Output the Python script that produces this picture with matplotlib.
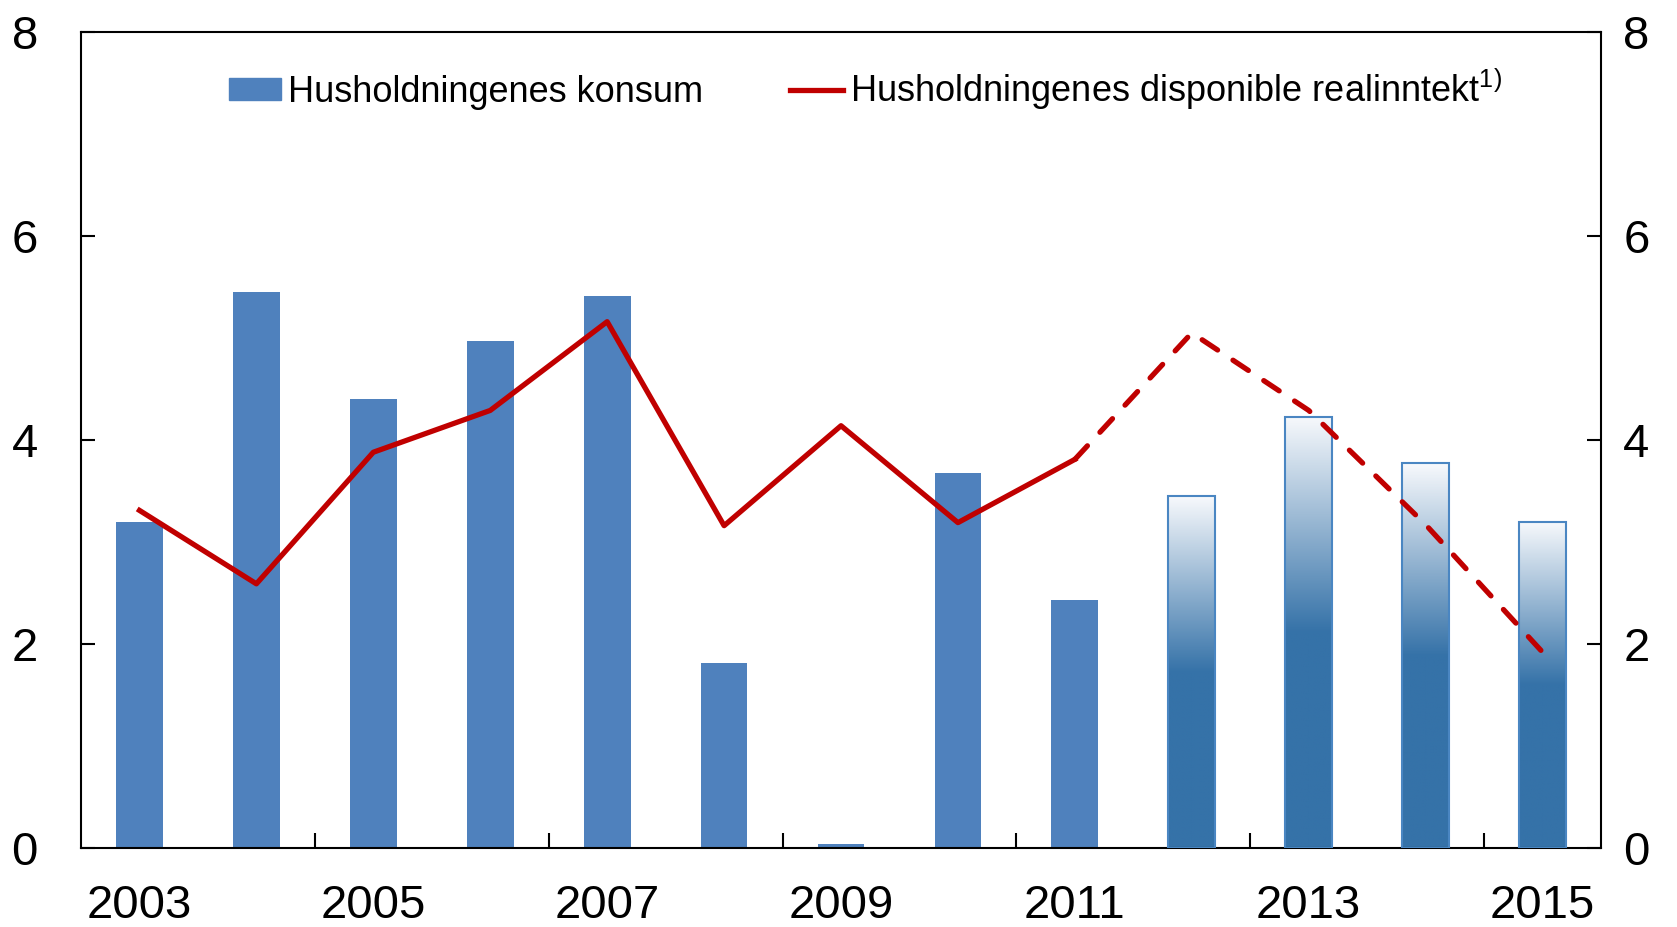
import matplotlib
matplotlib.use('Agg')
import matplotlib.pyplot as plt
import numpy as np
from matplotlib.colors import LinearSegmentedColormap
from matplotlib.transforms import ScaledTranslation
from matplotlib.patches import Patch
from matplotlib.lines import Line2D

plt.rcParams['font.family'] = ['Liberation Sans', 'DejaVu Sans']
plt.rcParams['mathtext.fontset'] = 'custom'
plt.rcParams['mathtext.rm'] = 'Liberation Sans'

years = list(range(2003, 2016))
konsum = [3.20, 5.45, 4.40, 4.97, 5.41, 1.81, 0.04, 3.68, 2.43, 3.45, 4.23, 3.77, 3.20]
inntekt_hist = [3.31, 2.59, 3.88, 4.29, 5.16, 3.16, 4.14, 3.19, 3.81]
inntekt_prog = [3.81, 5.05, 4.29, 3.17, 1.92]
first_forecast = 2012

bar_col = '#4F81BD'
fc_col = '#3572A8'
line_col = '#C00000'

fig = plt.figure(figsize=(16.77, 9.27), dpi=100)
ax = fig.add_axes([0.0483, 0.0852, 0.9064, 0.8803])

hist_years = [y for y in years if y < first_forecast]
fc_years = [y for y in years if y >= first_forecast]
ax.bar(hist_years, konsum[:len(hist_years)], width=0.4, color=bar_col, zorder=2)
fc_bars = ax.bar(fc_years, konsum[len(hist_years):], width=0.4, color='none',
                 edgecolor='#4A86C2', linewidth=1.5, zorder=3)

# gradient fill for forecast bars: light on top, solid in lower half
cmap = LinearSegmentedColormap.from_list('g', [(0, fc_col), (0.5, fc_col), (1, '#F7F9FC')])
grad = np.linspace(0, 1, 256).reshape(-1, 1)
for b in fc_bars:
    x0, w, h = b.get_x(), b.get_width(), b.get_height()
    im = ax.imshow(grad, cmap=cmap, extent=(x0, x0 + w, 0, h), origin='lower',
                   aspect='auto', zorder=2)
    im.set_clip_path(b)

ax.plot(years[:len(inntekt_hist)], inntekt_hist, color=line_col, lw=3.8, zorder=4)
ax.plot(years[len(inntekt_hist) - 1:], inntekt_prog, color=line_col, lw=3.8, zorder=4,
        dashes=(3.5, 3.5), dash_capstyle='round')

ax.set_xlim(2002.5, 2015.5)
ax.set_ylim(0, 8)
ax.set_yticks([0, 2, 4, 6, 8])

ax.set_xticks([2004.5, 2006.5, 2008.5, 2010.5, 2012.5, 2014.5])
ax.set_xticklabels([])
ax.set_xticks(years[::2], minor=True)
ax.set_xticklabels([str(y) for y in years[::2]], minor=True)
ax.tick_params(axis='x', which='major', direction='in', length=11, width=1.5)
ax.tick_params(axis='x', which='minor', length=0, pad=26, labelsize=34)
ax.tick_params(axis='y', direction='in', length=10, width=1.5, labelsize=34,
               right=True, labelright=True, pad=31)
for sp in ax.spines.values():
    sp.set_linewidth(1.5)

# right labels closer to the spine than the left ones
off = ScaledTranslation(-15 / 72, 0, fig.dpi_scale_trans)
for tk in ax.yaxis.get_major_ticks():
    tk.label2.set_transform(tk.label2.get_transform() + off)

handles = [Patch(color=bar_col), Line2D([], [], color=line_col, lw=3.8)]
labels = ['Husholdningenes konsum', r'Husholdningenes disponible realinntekt$^{1)}$']
ax.legend(handles, labels, ncol=2, frameon=False, fontsize=26, loc='center',
          bbox_to_anchor=(0.516, 0.93), handlelength=1.45, handletextpad=0.2,
          columnspacing=2.4, handleheight=0.55)

fig.savefig('out.png', dpi=100)
